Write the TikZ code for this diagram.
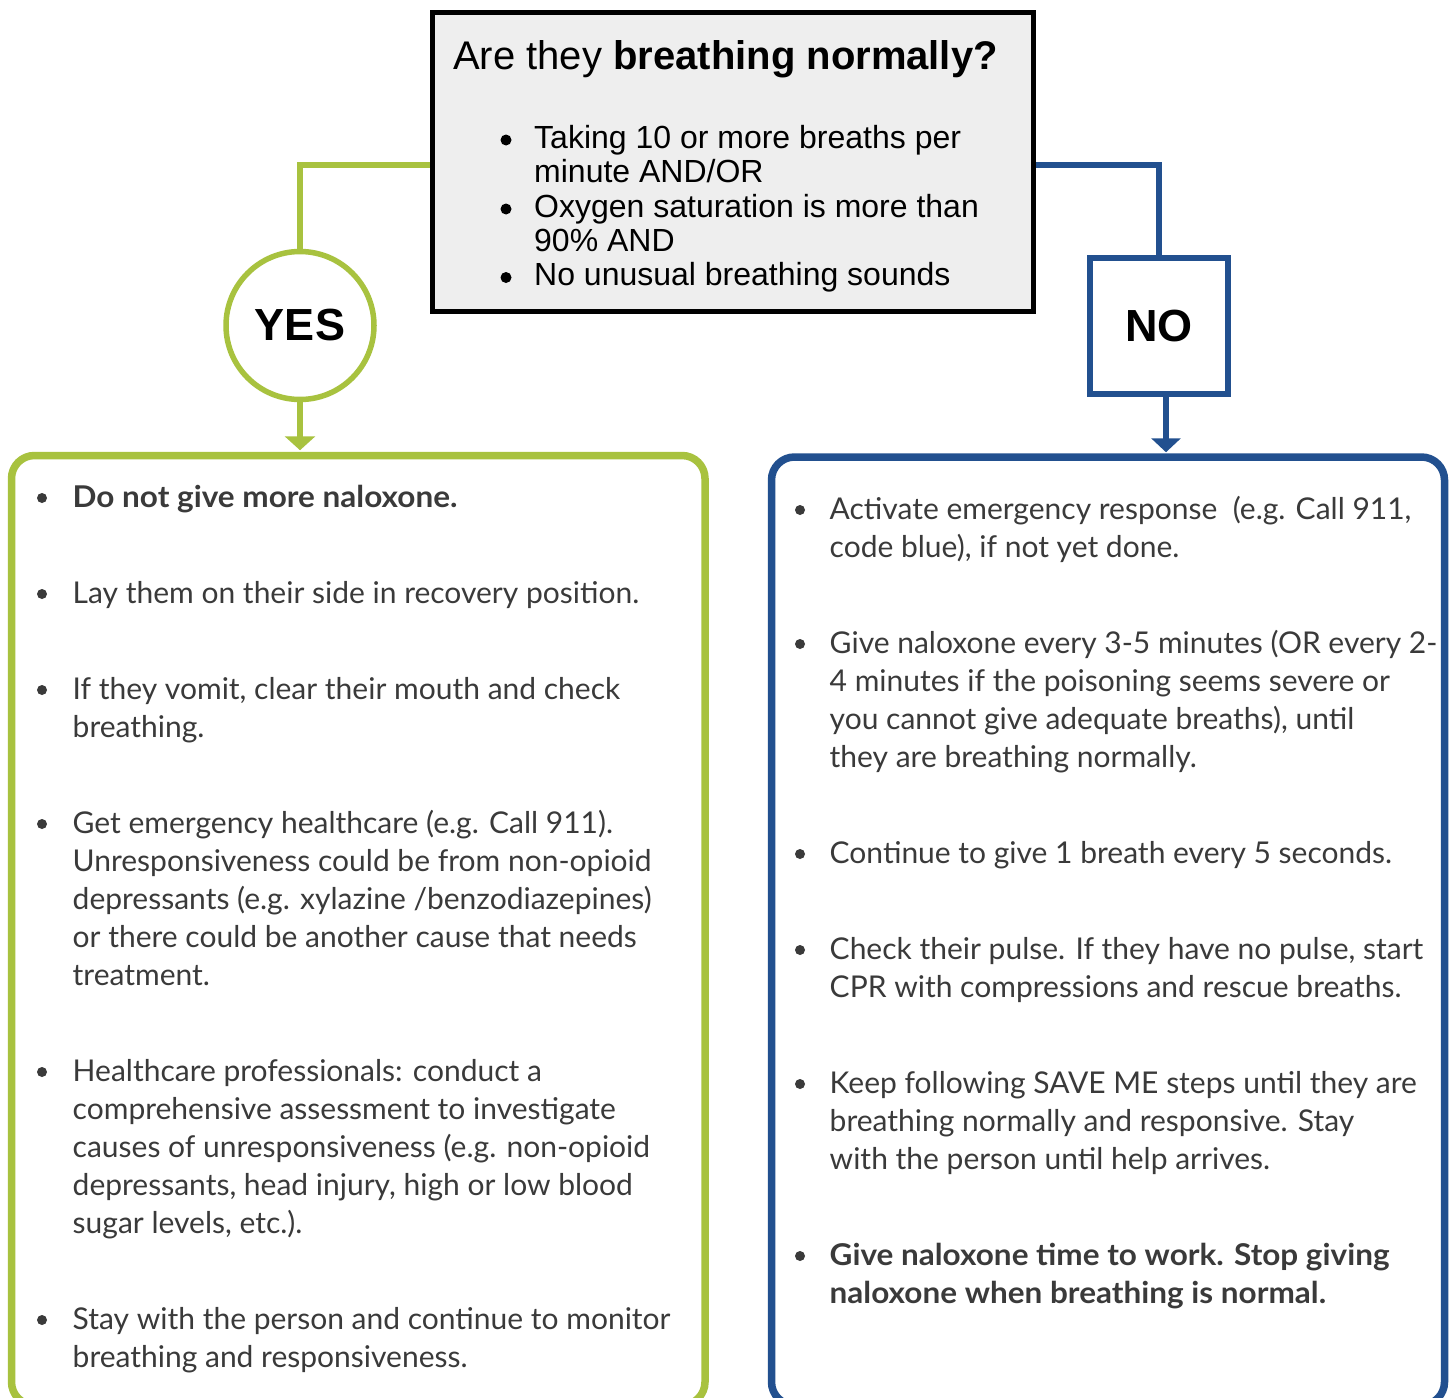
\documentclass[tikz,border=0pt]{standalone}
\usepackage{fontspec}
\setmainfont{Lato}
\newfontfamily\arialf{Liberation Sans}
\usetikzlibrary{arrows.meta,calc}
\definecolor{grn}{HTML}{A8C23F}
\definecolor{blu}{HTML}{22508F}
\definecolor{txt}{HTML}{3A3A3A}
\definecolor{qfill}{HTML}{EEEEEE}
\newcommand\bodyfont{\fontsize{30}{38}\selectfont}
\newcommand\wideb[1]{\scalebox{1.05}[1]{\bfseries #1}}
\begin{document}
\begin{tikzpicture}[x=1pt,y=-1pt,
  ln/.style={anchor=base west, inner sep=0pt, font=\bodyfont, text=txt},
  qln/.style={anchor=base west, inner sep=0pt, font=\arialf\fontsize{32}{34}\selectfont, text=black},
  gline/.style={draw=grn, line width=5.5pt},
  bline/.style={draw=blu, line width=5.5pt},
  lbl/.style={font=\arialf\bfseries\fontsize{45}{45}\selectfont, text=black, inner sep=0pt},
  panel/.style={line width=7.5pt, rounded corners=23pt, inner sep=0pt, fill=white}]
\useasboundingbox (0,0) rectangle (1450,1397);
\fill[white] (0,0) rectangle (1450,1397);
\clip (0,0) rectangle (1450,1397);

% panels
\node[panel, draw=grn, minimum width=693.5pt, minimum height=949.5pt] (gbox) at (358.25,930.25) {};
\node[panel, draw=blu, minimum width=673pt, minimum height=948pt] (bbox) at (1108,931) {};

% question box
\node[draw=black, line width=5pt, fill=qfill, minimum width=601pt, minimum height=298.5pt, inner sep=0pt] (q) at (733,161.75) {};
\node[anchor=base west, inner sep=0pt, font=\arialf\fontsize{40}{40}\selectfont] (title) at (453,70) {Are they \textbf{breathing normally?}};
\foreach \yy/\txt [count=\i] in {148/{Taking 10 or more breaths per}, 182.5/{minute AND/OR}, 217/{Oxygen saturation is more than}, 251/{90\% AND}, 285.5/{No unusual breathing sounds}}
  \node[qln] (q\i) at (534,\yy) {\txt};
\foreach \yy in {148,217,285.5}
  \fill[black] (506,\yy-8) circle (5.5);

% yes / no
\node[circle, draw=grn, line width=5.5pt, fill=white, minimum size=148pt, lbl] (yes) at (300,325.5) {YES};
\node[draw=blu, line width=5.7pt, fill=white, minimum width=138pt, minimum height=136pt, lbl] (no) at (1159,326) {NO};

% connectors
\draw[gline] ([yshift=-3.25pt]q.west) -| (yes.north);
\draw[bline] ([yshift=-3.25pt]q.east) -| (no.north);
\draw[gline, -{Triangle[width=30pt,length=14pt]}] (yes.south) -- ($(yes.south |- gbox.north)+(0,-1.5)$);
\draw[bline, -{Triangle[width=29pt,length=14pt]}] ($(no.south)+(7,0)$) -- ($(no.south |- bbox.north)+(7,-1)$);

% left text
\node[ln] (l0) at (72.5,507) {\wideb{Do not give more naloxone.}};
\foreach \yy/\txt [count=\i] in {
  603/{Lay them on their side in recovery position.},
  699/{If they vomit, clear their mouth and check},
  737/{breathing.},
  833/{Get emergency healthcare (e.g. Call 911).},
  871/{Unresponsiveness could be from non-opioid},
  909/{depressants (e.g. xylazine /benzodiazepines)},
  947/{or there could be another cause that needs},
  985/{treatment.},
  1081/{Healthcare professionals: conduct a},
  1119/{comprehensive assessment to investigate},
  1157/{causes of unresponsiveness (e.g. non-opioid},
  1195/{depressants, head injury, high or low blood},
  1233/{sugar levels, etc.).},
  1329/{Stay with the person and continue to monitor},
  1367/{breathing and responsiveness.}}
  \node[ln] (l\i) at (72.5,\yy) {\txt};
\foreach \yy in {507,603,699,833,1081,1329}
  \fill[txt] (42,\yy-9) circle (5);

% right text
\foreach \yy/\txt [count=\i] in {
  519/{Activate emergency response~ (e.g. Call 911,},
  557/{code blue), if not yet done.},
  653/{Give naloxone every 3-5 minutes (OR every 2-},
  691/{4 minutes if the poisoning seems severe or},
  729/{you cannot give adequate breaths), until},
  767/{they are breathing normally.},
  863/{Continue to give 1 breath every 5 seconds.},
  959/{Check their pulse. If they have no pulse, start},
  997/{CPR with compressions and rescue breaths.},
  1093/{Keep following SAVE ME steps until they are},
  1131/{breathing normally and responsive. Stay},
  1169/{with the person until help arrives.}}
  \node[ln] (r\i) at (829.5,\yy) {\txt};
\node[ln] (rb1) at (829.5,1265) {\wideb{Give naloxone time to work. Stop giving}};
\node[ln] (rb2) at (829.5,1303) {\wideb{naloxone when breathing is normal.}};
\foreach \yy in {519,653,863,959,1093,1265}
  \fill[txt] (800,\yy-9) circle (5);
\end{tikzpicture}
\end{document}
